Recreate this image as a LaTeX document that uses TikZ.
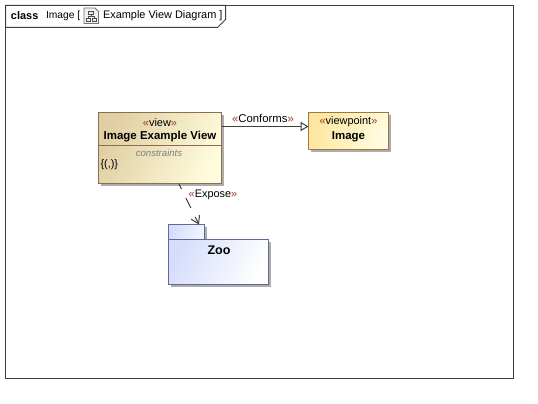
\documentclass[tikz,border=0pt]{standalone}
\usepackage{fontspec}
\setmainfont{Liberation Sans}
\usetikzlibrary{arrows.meta,shadings,shadows}
\definecolor{edgecol}{HTML}{3F3F3F}
\definecolor{vborder}{HTML}{8C6E4E}
\definecolor{pborder}{HTML}{A5763C}
\definecolor{zborder}{HTML}{5F6A96}
\definecolor{viewdark}{HTML}{E0CFA2}
\definecolor{viewlight}{HTML}{FFFBDD}
\definecolor{vpdark}{HTML}{FDE7A0}
\definecolor{vplight}{HTML}{FFFCE0}
\definecolor{zoodark}{HTML}{D5DDFB}
\definecolor{zoolight}{HTML}{FFFFFF}
\definecolor{gmark}{HTML}{9A3A20}
\newcommand{\gl}{\textcolor{gmark}{«}}
\newcommand{\gr}{\textcolor{gmark}{»}}
\tikzset{
  x=0.75pt,y=-0.75pt,
  every node/.style={inner sep=0,outer sep=0,font=\fontsize{8.2pt}{10pt}\selectfont,text=black},
  softshadow/.style={drop shadow={shadow xshift=2.2pt,shadow yshift=-2.2pt,fill=black!32,opacity=1}},
  umlbox/.style n args={3}{rectangle,anchor=north west,draw=#1,line width=0.75pt,softshadow,left color=#2,right color=#3,shading angle=65},
  framepen/.style={draw=edgecol,line width=0.75pt},
  connector/.style={draw=edgecol,line width=0.75pt},
  boldtxt/.style={font=\fontsize{8.6pt}{10pt}\selectfont\bfseries},
}
\begin{document}
\begin{tikzpicture}
\useasboundingbox (0,0) rectangle (538,403);
\fill[white] (0,0) rectangle (538,403);
% frame
\draw[framepen] (5.5,5.5) rectangle (513.5,378.5);
\draw[framepen,fill=white] (5.5,5.5) -- (225.5,5.5) -- (225.5,19.5) -- (217.5,27.5) -- (5.5,27.5) -- cycle;
\node[anchor=west,font=\fontsize{8.2pt}{10pt}\selectfont\bfseries] (kind) at (11,15.5) {class};
\node[anchor=west,font=\fontsize{7.7pt}{10pt}\selectfont] (owner) at (46,15.5) {Image [};
\node[anchor=west] (dname) at (103,15.5) {Example View Diagram ]};
% diagram icon
\draw[black!55,line width=0.6pt,fill=black!6] (84,8) -- (95,8) -- (98.5,11.5) -- (98.5,23.5) -- (84,23.5) -- cycle;
\draw[black!70,line width=0.6pt] (88.5,11) rectangle (93,14.5) (86,18.5) rectangle (90,21.5) (92,18.5) rectangle (96,21.5) (91,14.5) -- (91,16.5) (88,18.5) -- (88,16.5) -- (94,16.5) -- (94,18.5);
% view
\node[umlbox={vborder}{viewdark}{viewlight},minimum width=92.25pt,minimum height=53.25pt] (view) at (98.5,112.5) {};
\draw[vborder,line width=0.75pt] (view.west |- 0,145.5) -- (view.east |- 0,145.5);
\node (viewst) at (160,122.5) {\gl view\gr};
\node[boldtxt] (viewnm) at (160,137) {Image Example View};
\node[font=\fontsize{7.2pt}{9pt}\selectfont\itshape,text=black!50] (viewcs) at (159,153.5) {constraints};
\node[anchor=west] (viewcv) at (100.5,164.5) {\{(,)\}};
% viewpoint
\node[umlbox={pborder}{vpdark}{vplight},minimum width=60pt,minimum height=27.75pt] (vp) at (308.5,112.5) {};
\node (vpst) at (348.5,122) {\gl viewpoint\gr};
\node[boldtxt] (vpnm) at (348.5,137) {Image};
% zoo
\node[umlbox={zborder}{zoodark}{zoolight!70!zoodark},minimum width=27pt,minimum height=11.25pt] (zootab) at (168.5,224.5) {};
\node[umlbox={zborder}{zoodark}{zoolight},minimum width=75pt,minimum height=33.75pt] (zoo) at (168.5,239.5) {};
\node[font=\fontsize{9.4pt}{11pt}\selectfont\bfseries] (zoonm) at (219,250) {Zoo};
% connectors
\coordinate (confy) at (0,126.5);
\draw[connector,-{Triangle[open,fill=white,length=6pt,width=7pt]}] (view.east |- confy) -- (vp.west |- confy);
\node[font=\fontsize{8.5pt}{10pt}\selectfont] (conf) at (263,118) {\gl Conforms\gr};
\coordinate (expfrom) at (179,184);
\coordinate (expto) at (199,224.5);
\draw[connector,dash pattern=on 8.25pt off 7.5pt,dash phase=4pt,-{Straight Barb[length=5.5pt,width=7pt]}] (expfrom) -- (expto);
\node (expose) at (213,195) {\gl Expose\gr};
\end{tikzpicture}
\end{document}
